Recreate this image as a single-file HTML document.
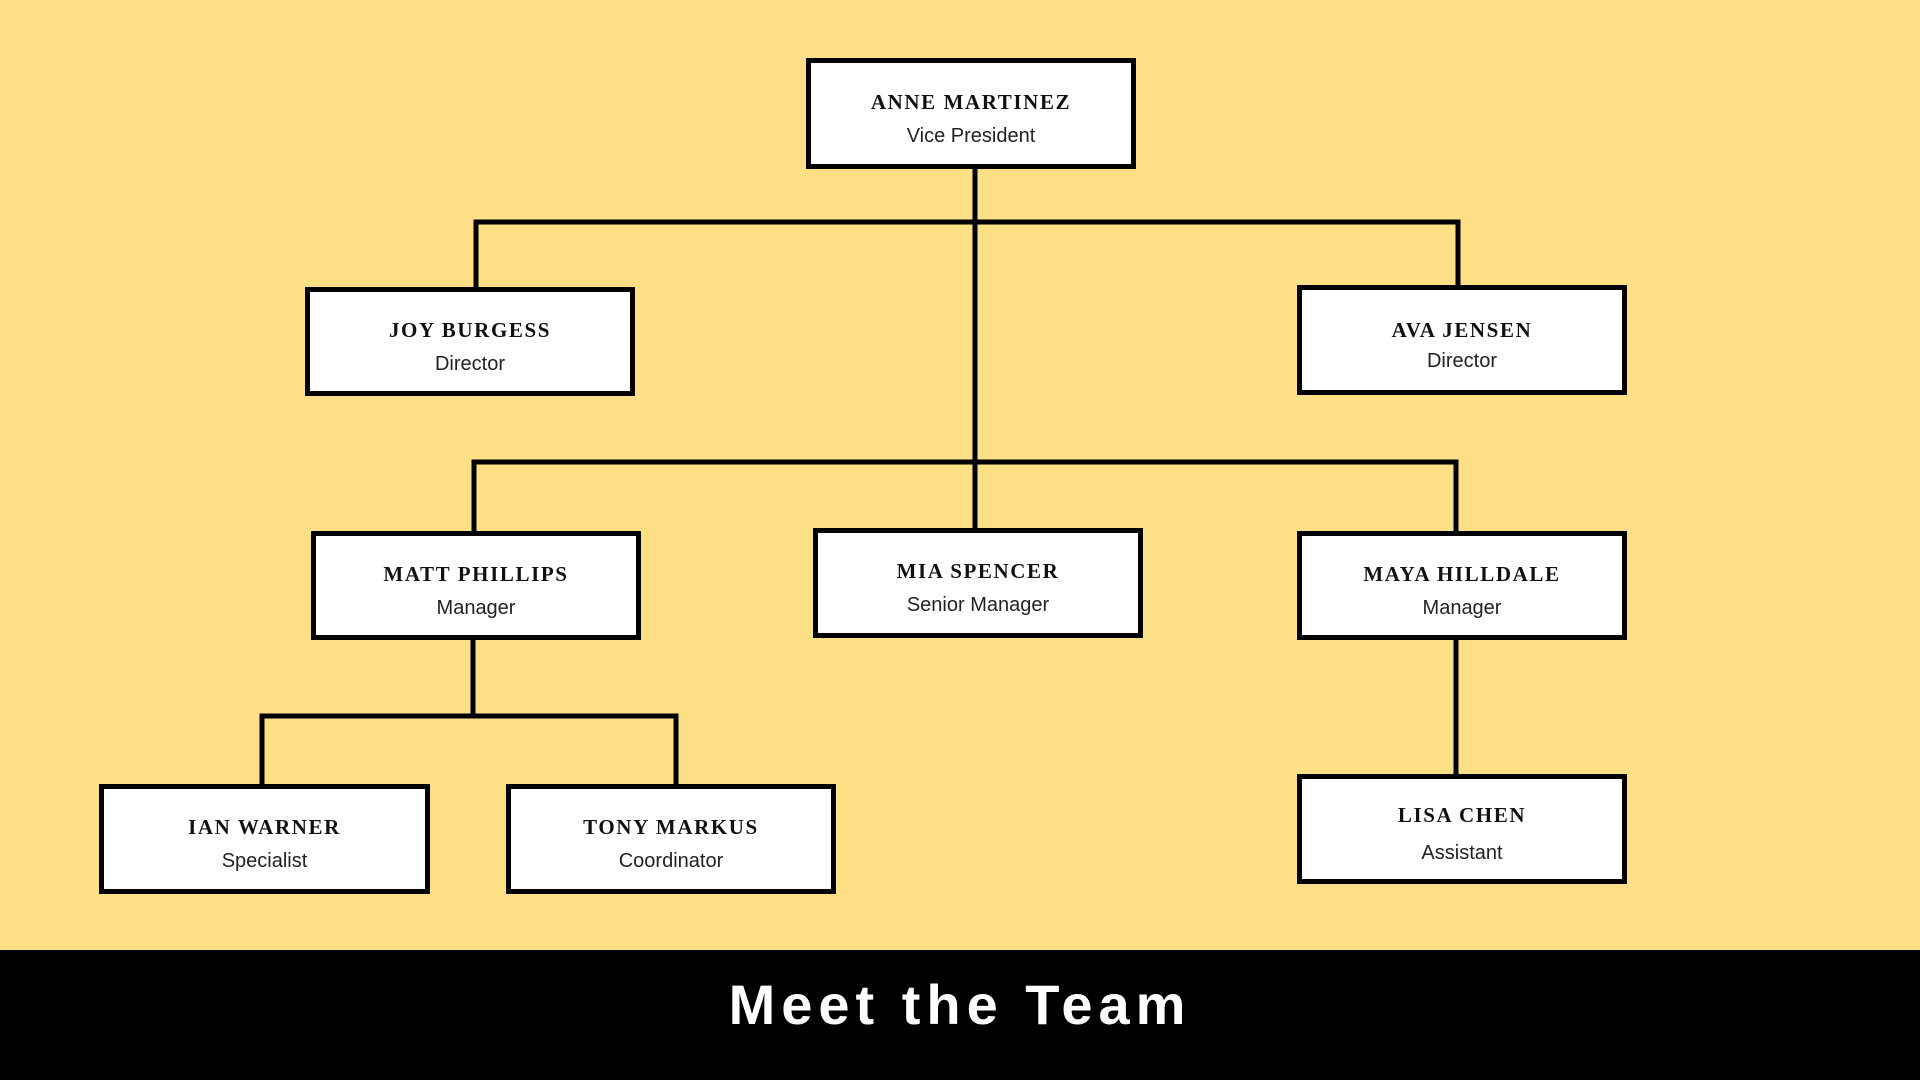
<!DOCTYPE html>
<html><head><meta charset="utf-8"><style>
html,body{margin:0;padding:0}
body{width:1920px;height:1080px;background:#FDDF86;position:relative;overflow:hidden}
.b{position:absolute;box-sizing:border-box;border:5px solid #000;background:#fff;display:flex;flex-direction:column;align-items:center;justify-content:center;padding-top:10px}
.n{font-family:"Liberation Serif",serif;font-weight:bold;font-size:21px;letter-spacing:1.6px;line-height:26px;color:#111}
.t{font-family:"Liberation Sans",sans-serif;font-size:20px;line-height:26px;margin-top:8px;color:#222}
.bar{position:absolute;left:0;top:950px;width:1920px;height:130px;background:#000;color:#fff;font-family:"Liberation Sans",sans-serif;font-weight:bold;font-size:56px;letter-spacing:6px;text-align:center;line-height:110px}
svg{position:absolute;left:0;top:0}
</style></head><body>
<svg width="1920" height="1080"><g stroke="#000" stroke-width="5" fill="none">
<line x1="975" y1="165" x2="975" y2="462"/>
<polyline points="476,290 476,222 1458,222 1458,290"/>
<polyline points="474,535 474,462 1456,462 1456,535"/>
<line x1="975" y1="462" x2="975" y2="530"/>
<line x1="473" y1="635" x2="473" y2="716"/>
<polyline points="262,788 262,716 676,716 676,788"/>
<line x1="1456" y1="635" x2="1456" y2="778"/>
</g></svg>
<div class="b" style="left:806px;top:58px;width:330px;height:111px"><div class="n">ANNE MARTINEZ</div><div class="t">Vice President</div></div>
<div class="b" style="left:305px;top:287px;width:330px;height:109px"><div class="n">JOY BURGESS</div><div class="t">Director</div></div>
<div class="b" style="left:1297px;top:285px;width:330px;height:110px"><div class="n">AVA JENSEN</div><div class="t" style="margin-top:5px">Director</div></div>
<div class="b" style="left:311px;top:531px;width:330px;height:109px"><div class="n">MATT PHILLIPS</div><div class="t">Manager</div></div>
<div class="b" style="left:813px;top:528px;width:330px;height:110px"><div class="n">MIA SPENCER</div><div class="t">Senior Manager</div></div>
<div class="b" style="left:1297px;top:531px;width:330px;height:109px"><div class="n">MAYA HILLDALE</div><div class="t">Manager</div></div>
<div class="b" style="left:99px;top:784px;width:331px;height:110px"><div class="n">IAN WARNER</div><div class="t">Specialist</div></div>
<div class="b" style="left:506px;top:784px;width:330px;height:110px"><div class="n">TONY MARKUS</div><div class="t">Coordinator</div></div>
<div class="b" style="left:1297px;top:774px;width:330px;height:110px"><div class="n">LISA CHEN</div><div class="t" style="margin-top:12px">Assistant</div></div>
<div class="bar">Meet the Team</div>
</body></html>
